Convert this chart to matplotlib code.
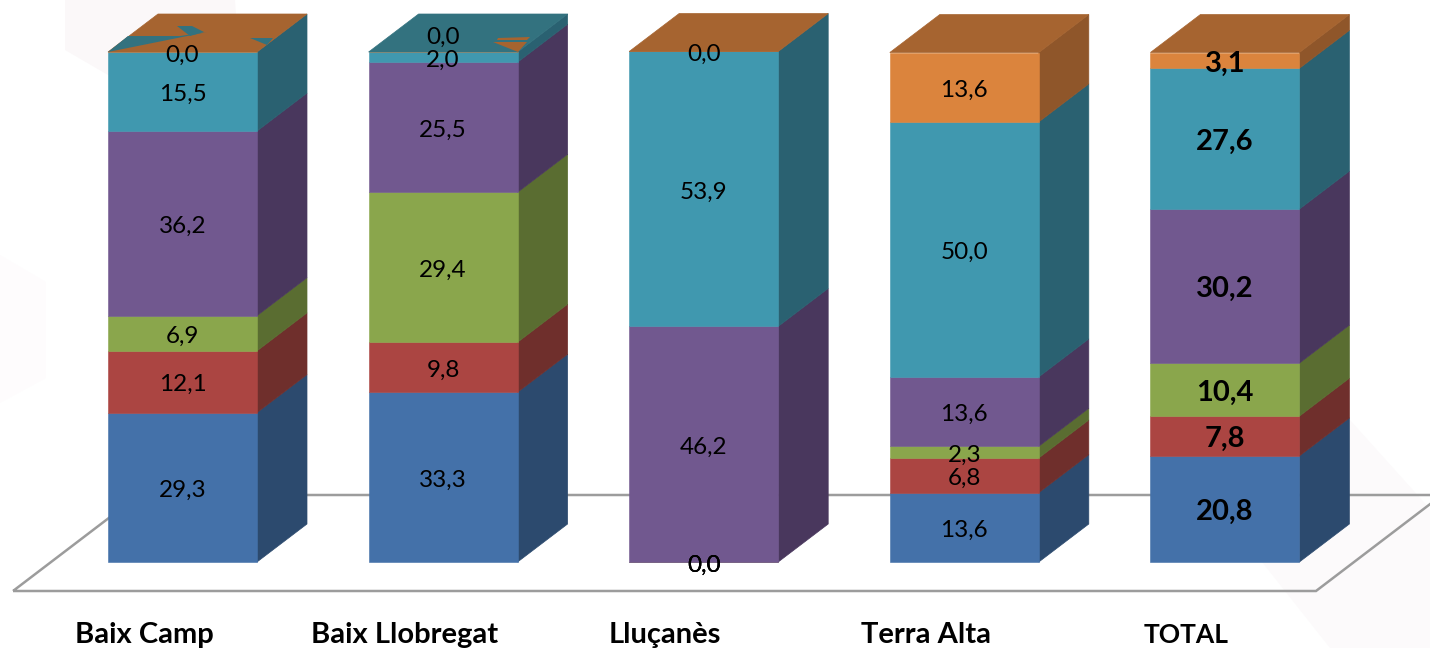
import numpy as np
import matplotlib
matplotlib.use("Agg")
import matplotlib.pyplot as plt
from matplotlib.patches import Polygon

plt.rcParams['font.family'] = ['Lato', 'DejaVu Sans']

categories = ['Baix Camp', 'Baix Llobregat', 'Lluçanès', 'Terra Alta', 'TOTAL']

# stacked from the bottom up
serie_blau = [29.3, 33.3, 0.0, 13.6, 20.8]
serie_vermell = [12.1, 9.8, 0.0, 6.8, 7.8]
serie_verd = [6.9, 29.4, 0.0, 2.3, 10.4]
serie_lila = [36.2, 25.5, 46.2, 13.6, 30.2]
serie_blau_clar = [15.5, 2.0, 53.9, 50.0, 27.6]
serie_taronja = [0.0, 0.0, 0.0, 13.6, 3.1]

series = [serie_blau, serie_vermell, serie_verd, serie_lila, serie_blau_clar, serie_taronja]
front_colors = ['#4471A9', '#AB4542', '#8AA64C', '#71588F', '#4098AF', '#DB843D']
side_colors = ['#2C4A6E', '#6F2F2C', '#5A6D31', '#49375D', '#2A6171', '#8F562A']
top_colors = ['#A66430', '#33727F', '#A66430', '#A66430', '#A66430']

PX_X = 260.6   # pixels per category
PX_Y = 5.1     # pixels per percent
bar_w = 149 / PX_X
depth_x = 50 / PX_X
depth_y = 38 / PX_Y
label_drop = 3 / PX_Y

fig = plt.figure(figsize=(14.3, 6.48), dpi=100)
ax = fig.add_axes([0, 0, 1, 1])
ax.set_xlim(-182.5 / PX_X, (1430 - 182.5) / PX_X)
ax.set_ylim(-86 / PX_Y, 100 + 52 / PX_Y)
ax.axis('off')


def px(x, y):
    return (x - 182.5) / PX_X, (562 - y) / PX_Y


def shape(points, color, zorder):
    ax.add_patch(Polygon([px(*p) for p in points], closed=True, color=color, linewidth=0, zorder=zorder))


# faint slide background behind the chart
shape([(65, 0), (65, 50), (108, 75), (240, 75), (235, 0)], '#FBF8F9', 0)
shape([(0, 255), (46, 282), (46, 378), (0, 403)], '#FEFCFD', 0)
shape([(1350, 420), (1440, 520), (1440, 648), (1330, 648), (1262, 562)], '#FCFAFB', 0)

# floor of the 3d chart
floor = [px(13, 591), px(1316, 591), px(1442, 495), px(139, 495)]
ax.add_patch(Polygon(floor, closed=True, fill=False, edgecolor='#9C9C9C', linewidth=1.8, zorder=1))

x = np.arange(len(categories))
bottom = np.zeros(len(categories))
for values, front, side in zip(series, front_colors, side_colors):
    values = np.array(values)
    ax.bar(x, values, bar_w, bottom=bottom, color=front, edgecolor=front, linewidth=0.4, zorder=3)
    for i in x:
        if values[i] == 0:
            continue
        right = i + bar_w / 2
        y0, y1 = bottom[i], bottom[i] + values[i]
        face = [(right, y0), (right + depth_x, y0 + depth_y), (right + depth_x, y1 + depth_y), (right, y1)]
        ax.add_patch(Polygon(face, closed=True, color=side, linewidth=0.5, zorder=2))
    bottom += values

# top faces
for i in x:
    right = i + bar_w / 2
    left = i - bar_w / 2
    y1 = bottom[i]
    face = [(left, y1), (right, y1), (right + depth_x, y1 + depth_y), (left + depth_x, y1 + depth_y)]
    ax.add_patch(Polygon(face, closed=True, color=top_colors[i], linewidth=0.5, zorder=4))

# rendering glitches on the top faces of the first two bars
shape([(108, 52), (128, 36), (180, 36), (207, 32)], '#33727F', 5)
shape([(177, 26), (192, 26), (204, 32), (190, 36)], '#33727F', 5)
shape([(250, 38), (273, 38), (267, 45)], '#33727F', 5)
shape([(493, 42), (527, 42), (518, 52)], '#A66430', 5)
shape([(498, 38), (530, 37), (527, 40), (497, 40)], '#A66430', 5)

# value labels
bottom = np.zeros(len(categories))
for values in series:
    for i in x:
        size, weight = (21, 'bold') if categories[i] == 'TOTAL' else (17.5, 'normal')
        ypos = bottom[i] + values[i] / 2 - label_drop
        # the 0,0 over the 2,0 was moved up by hand in the original
        if categories[i] == 'Baix Llobregat' and values is serie_taronja:
            ypos += 3.4
        ax.text(i, ypos, f'{values[i]:.1f}'.replace('.', ','), ha='center', va='center',
                fontsize=size, fontweight=weight, color='black', zorder=6)
    bottom += np.array(values)

# category names sit under the front of the floor
for i, name in zip(x, categories):
    size = 19 if name == 'TOTAL' else 21
    ax.text(i - 38.5 / PX_X, -73 / PX_Y, name, ha='center', va='center',
            fontsize=size, fontweight='bold', color='black', zorder=6)

fig.savefig('out.png', dpi=100)
